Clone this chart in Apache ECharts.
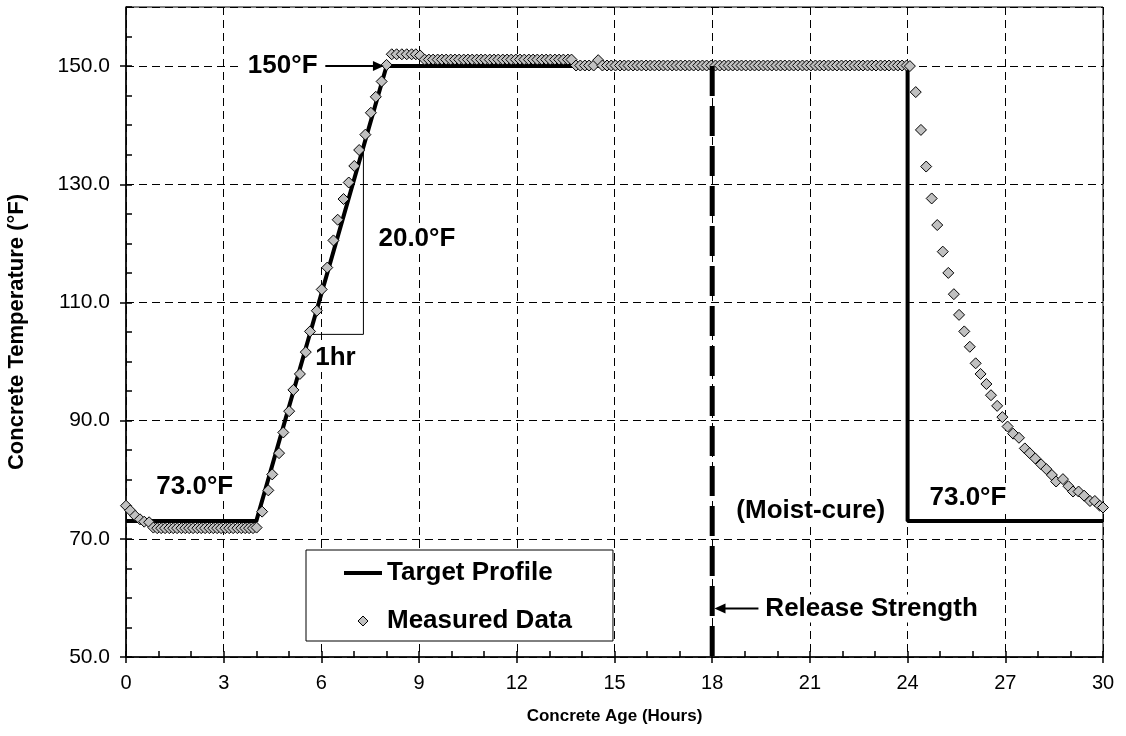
<!DOCTYPE html>
<html>
<head>
<meta charset="utf-8">
<script src="https://cdn.jsdelivr.net/npm/echarts@6/dist/echarts.min.js"></script>
<style>
  html, body { margin: 0; padding: 0; background: #fff; }
  #chart { width: 1126px; height: 736px; }
</style>
</head>
<body>
<div id="chart"></div>
<script>
// Target accelerated-curing profile: [age (h), temperature (°F)]
const targetProfile = [[0, 73], [4, 73], [8, 150], [24, 150], [24, 73], [30, 73]];

// Measured concrete temperature, by curing stage: [age (h), temperature (°F)]
const measuredPreset = [
  [0, 75.6], [0.13, 74.8], [0.28, 73.9], [0.43, 73.3], [0.56, 72.9], [0.71, 72.8],
  [0.84, 71.9], [0.96, 71.8], [1.08, 71.8], [1.2, 71.8], [1.33, 71.8], [1.45, 71.8],
  [1.57, 71.8], [1.7, 71.8], [1.82, 71.8], [1.94, 71.8], [2.06, 71.8], [2.19, 71.8],
  [2.31, 71.8], [2.43, 71.8], [2.56, 71.8], [2.68, 71.8], [2.8, 71.8], [2.92, 71.8],
  [3.05, 71.8], [3.17, 71.8], [3.29, 71.8], [3.42, 71.8], [3.54, 71.8], [3.66, 71.8],
  [3.78, 71.8], [3.9, 71.8], [4.01, 71.9]
];
const measuredRamp = [
  [4.18, 74.6], [4.37, 78.2], [4.49, 80.9], [4.7, 84.5], [4.83, 88.0], [5.01, 91.6],
  [5.14, 95.2], [5.34, 97.9], [5.52, 101.6], [5.65, 105.1], [5.86, 108.6], [6.01, 112.2],
  [6.18, 115.9], [6.37, 120.5], [6.5, 124.0], [6.68, 127.5], [6.84, 130.3], [7.01, 133.1],
  [7.16, 135.8], [7.35, 138.4], [7.52, 142.1], [7.67, 144.8], [7.85, 147.4], [8.0, 150.2]
];
const measuredHoldEarly = [
  [8.16, 152.0], [8.31, 152.0], [8.47, 152.0], [8.62, 152.0], [8.77, 152.0], [8.9, 152.0],
  [9.03, 151.8], [9.17, 151.1], [9.3, 151.1], [9.43, 151.1], [9.57, 151.1], [9.7, 151.1],
  [9.83, 151.1], [9.97, 151.1], [10.1, 151.1], [10.23, 151.1], [10.37, 151.1], [10.5, 151.1],
  [10.63, 151.1], [10.77, 151.1], [10.9, 151.1], [11.03, 151.1], [11.17, 151.1], [11.3, 151.1],
  [11.43, 151.1], [11.57, 151.1], [11.7, 151.1], [11.83, 151.1], [11.97, 151.1], [12.1, 151.1],
  [12.23, 151.1], [12.37, 151.1], [12.5, 151.1], [12.63, 151.1], [12.77, 151.1], [12.9, 151.1],
  [13.03, 151.1], [13.17, 151.1], [13.3, 151.1], [13.43, 151.1], [13.57, 151.1], [13.68, 151.1]
];
const measuredHoldLate = [
  [13.82, 150.1], [13.95, 150.1], [14.09, 150.1], [14.22, 150.1], [14.36, 150.1], [14.5, 151.0],
  [14.63, 150.1], [14.77, 150.1], [14.9, 150.1], [15.03, 150.1], [15.17, 150.1], [15.3, 150.1],
  [15.43, 150.1], [15.57, 150.1], [15.7, 150.1], [15.83, 150.1], [15.97, 150.1], [16.1, 150.1],
  [16.23, 150.1], [16.37, 150.1], [16.5, 150.1], [16.63, 150.1], [16.77, 150.1], [16.9, 150.1],
  [17.03, 150.1], [17.17, 150.1], [17.3, 150.1], [17.43, 150.1], [17.57, 150.1], [17.7, 150.1],
  [17.83, 150.1], [17.97, 150.1], [18.1, 150.1], [18.23, 150.1], [18.37, 150.1], [18.5, 150.1],
  [18.63, 150.1], [18.77, 150.1], [18.9, 150.1], [19.03, 150.1], [19.17, 150.1], [19.3, 150.1],
  [19.43, 150.1], [19.57, 150.1], [19.7, 150.1], [19.83, 150.1], [19.97, 150.1], [20.1, 150.1],
  [20.23, 150.1], [20.37, 150.1], [20.5, 150.1], [20.63, 150.1], [20.77, 150.1], [20.9, 150.1],
  [21.03, 150.1], [21.17, 150.1], [21.3, 150.1], [21.43, 150.1], [21.57, 150.1], [21.7, 150.1],
  [21.83, 150.1], [21.97, 150.1], [22.1, 150.1], [22.23, 150.1], [22.37, 150.1], [22.5, 150.1],
  [22.63, 150.1], [22.77, 150.1], [22.9, 150.1], [23.03, 150.1], [23.17, 150.1], [23.3, 150.1],
  [23.43, 150.1], [23.57, 150.1], [23.7, 150.1], [23.83, 150.1], [23.97, 150.1], [24.07, 150.0]
];
const measuredCool = [
  [24.25, 145.6], [24.41, 139.2], [24.57, 133.0], [24.74, 127.6], [24.91, 123.1], [25.08, 118.6],
  [25.25, 115.0], [25.42, 111.4], [25.58, 107.9], [25.74, 105.1], [25.91, 102.5], [26.09, 99.7],
  [26.24, 97.9], [26.42, 96.2], [26.56, 94.3], [26.75, 92.5], [26.91, 90.6], [27.07, 89.0],
  [27.24, 87.8], [27.42, 87.1], [27.6, 85.3], [27.75, 84.5], [27.92, 83.6], [28.1, 82.6],
  [28.26, 81.8], [28.43, 80.8], [28.56, 79.7], [28.77, 80.1], [28.94, 78.9], [29.08, 78.0],
  [29.25, 78.0], [29.42, 77.3], [29.6, 76.4], [29.75, 76.4], [29.9, 75.6], [30.0, 75.3]
];

// Age at which release strength is reached (h)
const releaseAge = 18;
// Rate triangle on the heating ramp: [age (h), temperature (°F)]
const rateTriangle = [[5.64, 104.6], [7.29, 104.6], [7.29, 136.3]];

// Axis ranges and steps
const ageAxis = { min: 0, max: 30, major: 3, minor: 1 };
const tempAxis = { min: 50, max: 160, major: 20, minor: 5 };

const FONT = 'Liberation Sans';
const measured = [].concat(measuredPreset, measuredRamp, measuredHoldEarly, measuredHoldLate, measuredCool);

const chart = echarts.init(document.getElementById('chart'), null, { renderer: 'canvas' });

const gridDash = { color: '#000', width: 1, type: [8, 5] };

const option = {
  animation: false,
  backgroundColor: '#fff',
  textStyle: { fontFamily: FONT },
  grid: { left: 126, right: 23, top: 7, bottom: 79, outerBoundsMode: 'none', containLabel: false,
          show: true, borderColor: '#000', borderWidth: 1, backgroundColor: 'transparent' },
  legend: {
    data: [
      { name: 'Target Profile', icon: 'path://M0,0H38V4H0Z', itemStyle: { color: '#000' } },
      { name: 'Measured Data', icon: 'path://M5,0L10,5L5,10L0,5Z',
        itemStyle: { color: '#c0c0c0', borderColor: '#000', borderWidth: 1 } }
    ],
    orient: 'vertical',
    left: 306, top: 550,
    padding: [10, 41, 7, 38],
    itemGap: 22,
    itemWidth: 38, itemHeight: 10,
    symbolKeepAspect: true,
    backgroundColor: '#fff',
    borderColor: '#000', borderWidth: 1,
    selectedMode: false,
    textStyle: { fontFamily: FONT, fontWeight: 'bold', fontSize: 26, color: '#000' }
  },
  xAxis: [
    {
      type: 'value', min: ageAxis.min, max: ageAxis.max, interval: ageAxis.major,
      name: 'Concrete Age (Hours)', nameLocation: 'middle', nameGap: 51,
      nameTextStyle: { fontFamily: FONT, fontWeight: 'bold', fontSize: 17, color: '#000' },
      axisLine: { onZero: false, lineStyle: { color: '#000', width: 1.5 } },
      axisTick: { inside: false, length: 6, lineStyle: { color: '#000', width: 1.5 } },
      axisLabel: { fontFamily: FONT, fontSize: 20, color: '#000', margin: 16 },
      splitLine: { show: true, lineStyle: gridDash }
    },
    {
      type: 'value', min: ageAxis.min, max: ageAxis.max, interval: ageAxis.minor, position: 'bottom',
      axisLine: { show: false, onZero: false },
      axisTick: { inside: true, length: 6, lineStyle: { color: '#000', width: 1.5 } },
      axisLabel: { show: false },
      splitLine: { show: false }
    }
  ],
  yAxis: [
    {
      type: 'value', min: tempAxis.min, max: tempAxis.max, interval: tempAxis.major,
      name: 'Concrete Temperature (°F)', nameLocation: 'middle', nameGap: 98,
      nameTextStyle: { fontFamily: FONT, fontWeight: 'bold', fontSize: 22, color: '#000' },
      axisLine: { onZero: false, lineStyle: { color: '#000', width: 1.5 } },
      axisTick: { inside: false, length: 6, lineStyle: { color: '#000', width: 1.5 } },
      axisLabel: { fontFamily: FONT, fontSize: 21, color: '#000', margin: 16, showMaxLabel: false,
                   formatter: v => v.toFixed(1) },
      splitLine: { show: true, lineStyle: gridDash }
    },
    {
      type: 'value', min: tempAxis.min, max: tempAxis.max, interval: tempAxis.minor, position: 'left',
      axisLine: { show: false, onZero: false },
      axisTick: { inside: true, length: 6, lineStyle: { color: '#000', width: 1.5 } },
      axisLabel: { show: false },
      splitLine: { show: false }
    }
  ],
  series: [
    {
      name: 'Rate', type: 'line', data: rateTriangle, symbol: 'none', silent: true, z: 1,
      lineStyle: { color: '#000', width: 1 }
    },
    {
      name: 'Target Profile', type: 'line', data: targetProfile, symbol: 'none', z: 2,
      lineStyle: { color: '#000', width: 4 }, itemStyle: { color: '#000' }
    },
    {
      name: 'Measured Data', type: 'scatter', data: measured, symbol: 'diamond', symbolSize: 11, z: 3,
      itemStyle: { color: '#c0c0c0', borderColor: '#000', borderWidth: 1, opacity: 1 }
    },
    {
      name: 'Release', type: 'line', data: [[releaseAge, 150], [releaseAge, tempAxis.min]],
      symbol: 'none', silent: true, z: 4,
      lineStyle: { color: '#000', width: 5, type: [30, 10] }
    }
  ]
};

chart.setOption(option);

// Annotations, placed in data coordinates
const toPx = (h, t) => chart.convertToPixel({ xAxisIndex: 0, yAxisIndex: 0 }, [h, t]);
const labelFont = 'bold 26px ' + FONT;

function note(text, h, t) {
  const p = toPx(h, t);
  return {
    type: 'text', x: p[0], y: p[1], z: 10,
    style: { text, font: labelFont, fill: '#000', align: 'left', verticalAlign: 'middle',
             backgroundColor: '#fff', padding: [1, 3] }
  };
}
function arrow(h0, h1, t) {
  const a = toPx(h0, t), b = toPx(h1, t);
  const dir = b[0] > a[0] ? 1 : -1;
  return [
    { type: 'line', z: 11, shape: { x1: a[0], y1: a[1], x2: b[0] - dir * 8, y2: b[1] },
      style: { stroke: '#000', lineWidth: 2 } },
    { type: 'polygon', z: 11,
      shape: { points: [[b[0], b[1]], [b[0] - dir * 11, b[1] - 5], [b[0] - dir * 11, b[1] + 5]] },
      style: { fill: '#000' } }
  ];
}
const boxA = toPx(3.5, 159.8), boxB = toPx(6.15, 147.0);

chart.setOption({
  graphic: [
    { type: 'rect', z: 9, shape: { x: boxA[0], y: boxA[1], width: boxB[0] - boxA[0], height: boxB[1] - boxA[1] },
      style: { fill: '#fff' } },
    note('150°F', 3.65, 150),
    ...arrow(6.12, 7.92, 150),
    note('20.0°F', 7.66, 120.7),
    note('1hr', 5.72, 100.6),
    note('73.0°F', 0.84, 78.8),
    note('(Moist-cure)', 18.65, 74.7),
    note('73.0°F', 24.58, 76.9),
    note('Release Strength', 19.54, 58.2),
    ...arrow(19.42, 18.07, 58.2)
  ]
});
</script>
</body>
</html>
